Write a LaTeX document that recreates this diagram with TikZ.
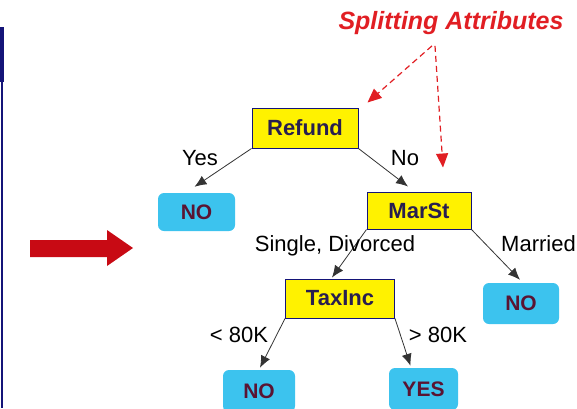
\documentclass[tikz,border=0pt]{standalone}
\usepackage{fontspec}
\setmainfont{Liberation Sans}
\usetikzlibrary{arrows.meta,calc}
\definecolor{navy}{RGB}{20,20,120}
\definecolor{boxtext}{RGB}{40,30,80}
\definecolor{leaftext}{RGB}{90,20,50}
\definecolor{leafblue}{RGB}{60,195,238}
\definecolor{splitred}{RGB}{225,30,35}
\definecolor{bigred}{RGB}{200,10,20}
\begin{document}
\begin{tikzpicture}[x=1pt,y=-1pt,
  attr/.style={draw=navy,line width=1pt,fill=yellow,inner sep=0pt,
    font=\fontsize{22}{24}\selectfont\bfseries,text=boxtext},
  leaf/.style={fill=leafblue,rounded corners=6pt,inner sep=0pt,
    font=\fontsize{21}{23}\selectfont\bfseries,text=leaftext},
  lbl/.style={font=\fontsize{22}{24}\selectfont,text=black,inner sep=0pt},
  edge/.style={draw=black!80,line width=0.8pt,-{Latex[length=12pt,width=10pt]}},
  hint/.style={draw=splitred,line width=1.2pt,dash pattern=on 6pt off 4pt,
    -{Triangle[length=14pt,width=12pt]}}]
\useasboundingbox (0,0) rectangle (577,408);
% left frame bar
\fill[navy] (0,27) rectangle (3.5,82);
\draw[navy,line width=2pt] (1.5,82) -- (1.5,408);
% big red arrow
\fill[bigred] (30,240) -- (107,240) -- (107,230) -- (133,248) -- (107,266)
  -- (107,257) -- (30,257) -- cycle;
% tree nodes
\node[attr,minimum width=106pt,minimum height=40pt] (refund) at (305,128) {Refund};
\node[attr,minimum width=104pt,minimum height=37pt] (marst) at (419,210.5) {MarSt};
\node[attr,minimum width=109pt,minimum height=39pt] (taxinc) at (340,298.5) {TaxInc};
\node[leaf,minimum width=77pt,minimum height=38pt] (noA) at (196.5,212) {NO};
\node[leaf,minimum width=76pt,minimum height=41pt] (noB) at (521,303.5) {NO};
\node[leaf,minimum width=72pt,minimum height=42pt] (noC) at (259,391) {NO};
\node[leaf,minimum width=69pt,minimum height=42pt] (yes) at (423.5,389) {YES};
% branches
\draw[edge] (refund.south west) -- ($(noA.north)+(-2,-6)$);
\draw[edge] (refund.south east) -- ($(marst.north)+(-11,-5)$);
\draw[edge] (marst.south west) -- ($(taxinc.north)+(-8,-1)$);
\draw[edge] (marst.south east) -- ($(noB.north)+(-1,-3)$);
\draw[edge] (taxinc.south west) -- ($(noC.north)+(1,-2)$);
\draw[edge] (taxinc.south east) -- ($(yes.north)+(-13,-2)$);
% branch labels
\node[lbl] (lyes) at (200,158) {Yes};
\node[lbl] (lno) at (405,158) {No};
\node[lbl] (lsd) at (335,246) {Single, Divorced};
\node[lbl,anchor=west] (lmar) at (501,244) {Married};
\node[lbl] (llt) at (239,335) {< 80K};
\node[lbl] (lgt) at (438,335) {> 80K};
% splitting attributes callout
\node[font=\fontsize{25}{27}\selectfont\bfseries\itshape,text=splitred,inner sep=0pt]
  (split) at (451,23) {Splitting Attributes};
\draw[hint] ($(split.south)+(-19,11)$) -- ($(refund.north east)+(9,-5)$);
\draw[hint] ($(split.south)+(-16,11)$) -- ($(marst.north)+(24,-24)$);
\end{tikzpicture}
\end{document}
